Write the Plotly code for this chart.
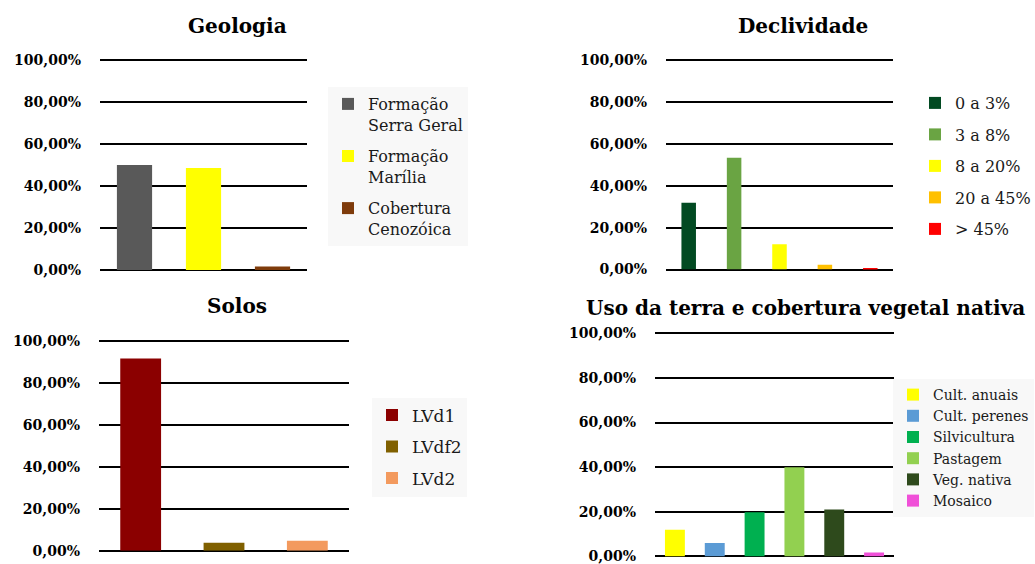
import plotly.graph_objects as go

# ---------------- data ----------------
geo_names = ["Formação<br>Serra Geral", "Formação<br>Marília", "Cobertura<br>Cenozóica"]
geo_values = [0.500, 0.486, 0.017]
geo_colors = ["#595959", "#FFFF00", "#7E3B0B"]

dec_names = ["0 a 3%", "3 a 8%", "8 a 20%", "20 a 45%", "> 45%"]
dec_values = [0.319, 0.533, 0.120, 0.023, 0.005]
dec_colors = ["#024A22", "#6AA443", "#FFFF00", "#FFC000", "#FF0000"]

sol_names = ["LVd1", "LVdf2", "LVd2"]
sol_values = [0.917, 0.038, 0.048]
sol_colors = ["#8B0000", "#806000", "#F39A5E"]

uso_names = ["Cult. anuais", "Cult. perenes", "Silvicultura", "Pastagem", "Veg. nativa", "Mosaico"]
uso_values = [0.120, 0.061, 0.198, 0.400, 0.211, 0.018]
uso_colors = ["#FFFF00", "#5B9BD5", "#00B050", "#92D050", "#2E4A1C", "#F050D8"]

titles = ["Geologia", "Declividade", "Solos", "Uso da terra e cobertura vegetal nativa"]

W, H = 1035, 564
RTOP = 1.01  # small headroom so the 100 % grid line is drawn


def px(v):
    return v / W


def py(v):
    return 1 - v / H


panels = [
    dict(names=geo_names, values=geo_values, colors=geo_colors, ax="", leg="legend",
         xd=(100, 307), yd=(270, 60), bw=0.51),
    dict(names=dec_names, values=dec_values, colors=dec_colors, ax="2", leg="legend2",
         xd=(666, 893), yd=(269.5, 60), bw=0.32),
    dict(names=sol_names, values=sol_values, colors=sol_colors, ax="3", leg="legend3",
         xd=(99, 349), yd=(550.7, 341), bw=0.49),
    dict(names=uso_names, values=uso_values, colors=uso_colors, ax="4", leg="legend4",
         xd=(655, 894), yd=(556.5, 333.3), bw=0.5),
]

fig = go.Figure()
for p in panels:
    cats = [n.replace("<br>", " ") for n in p["names"]]
    for name, cat, val, col in zip(p["names"], cats, p["values"], p["colors"]):
        fig.add_trace(go.Bar(
            x=[cat], y=[val], name=name, marker=dict(color=col, line=dict(width=0)),
            width=p["bw"], xaxis="x" + p["ax"], yaxis="y" + p["ax"],
            legend=p["leg"], legendgroup=p["leg"] + cat, showlegend=True,
            hoverinfo="skip",
        ))

layout = dict(
    width=W, height=H, margin=dict(l=0, r=0, t=0, b=0, autoexpand=False),
    paper_bgcolor="white", plot_bgcolor="white",
    barmode="overlay", separators=",.", showlegend=True,
)

tickfont = dict(family="DejaVu Serif", size=14, color="black", weight="bold")
for p in panels:
    a = p["ax"]
    cats = [n.replace("<br>", " ") for n in p["names"]]
    y0, y1 = p["yd"]
    ytop = y0 - (y0 - y1) * RTOP
    layout["xaxis" + a] = dict(
        domain=[px(p["xd"][0]), px(p["xd"][1])], anchor="y" + a,
        showticklabels=False, showgrid=False, zeroline=False, showline=False,
        categoryorder="array", categoryarray=cats, range=[-0.5, len(cats) - 0.5],
        fixedrange=True, automargin=False,
    )
    layout["yaxis" + a] = dict(
        domain=[py(y0), py(ytop)], anchor="x" + a,
        range=[0, RTOP], dtick=0.2, tick0=0, tickformat=".2%",
        showgrid=True, gridcolor="black", gridwidth=2,
        zeroline=True, zerolinecolor="black", zerolinewidth=2,
        showline=False, ticks="", ticklabelstandoff=18, tickfont=tickfont,
        ticklabeloverflow="allow", fixedrange=True, automargin=False,
    )

leg_font = dict(family="DejaVu Serif", color="#1A1A1A")
layout["legend"] = dict(x=px(328), y=py(87), xanchor="left", yanchor="top",
                        bgcolor="#F8F8F8", font=dict(leg_font, size=16),
                        valign="top", tracegroupgap=7.5, traceorder="grouped")
layout["legend2"] = dict(x=px(915), y=py(86), xanchor="left", yanchor="top",
                         bgcolor="rgba(0,0,0,0)", font=dict(leg_font, size=16),
                         tracegroupgap=7.7, traceorder="grouped")
layout["legend3"] = dict(x=px(372), y=py(397.5), xanchor="left", yanchor="top",
                         bgcolor="#F8F8F8", font=dict(leg_font, size=17),
                         tracegroupgap=6.4, traceorder="grouped")
layout["legend4"] = dict(x=px(893), y=py(379), xanchor="left", yanchor="top",
                         bgcolor="#F8F8F8", font=dict(leg_font, size=14),
                         tracegroupgap=0, traceorder="grouped")

title_pos = [(237, 26), (803, 26), (237, 306), (805, 308)]
annotations = []
for t, (tx, ty) in zip(titles, title_pos):
    annotations.append(dict(
        text="<b>" + t + "</b>", x=px(tx), y=py(ty), xref="paper", yref="paper",
        xanchor="center", yanchor="middle", showarrow=False,
        font=dict(family="DejaVu Serif", size=20, color="black"),
    ))
layout["annotations"] = annotations

fig.update_layout(**layout)
fig.write_html("out.html")
